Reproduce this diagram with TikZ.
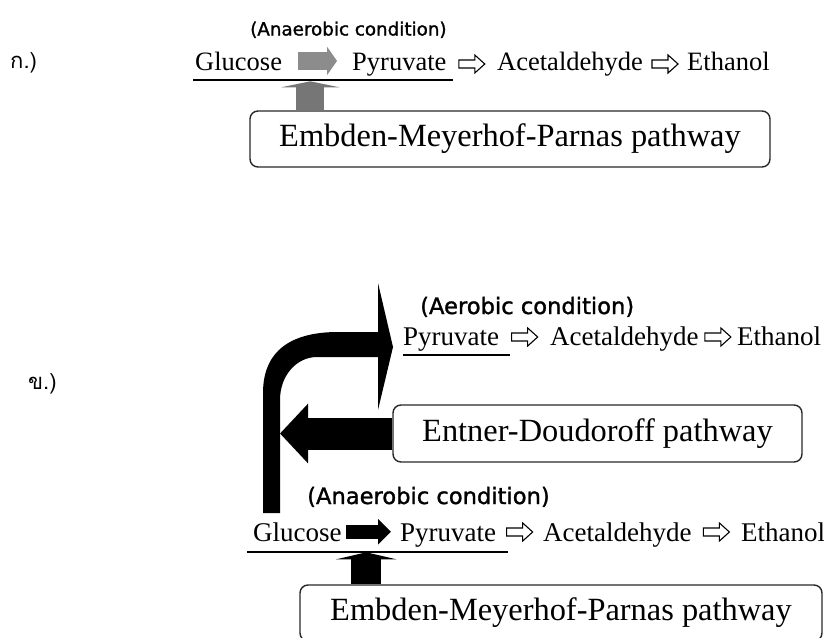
\documentclass[tikz,border=0pt]{standalone}
\usepackage{fontspec}
\setmainfont{Liberation Serif}
\newfontfamily\condfont[FakeBold=1.3]{DejaVu Sans}
\newfontfamily\thaifont[Script=Thai]{Loma}
\usetikzlibrary{arrows.meta,calc}
\definecolor{greyA}{RGB}{140,140,140}
\definecolor{greyB}{RGB}{118,118,118}
\definecolor{boxline}{RGB}{40,40,40}
\tikzset{
  word/.style={inner sep=0pt, anchor=base west, font=\fontsize{26.5}{30}\selectfont},
  wordb/.style={inner sep=0pt, anchor=base west, font=\fontsize{27}{30}\selectfont},
  condsmall/.style={inner sep=0pt, anchor=base west, font=\condfont\fontsize{18.3}{20}\selectfont},
  condbig/.style={inner sep=0pt, anchor=base west, font=\condfont\fontsize{22.6}{24}\selectfont},
  thailabel/.style={inner sep=0pt, anchor=base west, font=\thaifont\fontsize{22}{24}\selectfont},
  pathbox/.style={draw=boxline, line width=1.4pt, rounded corners=8pt, fill=white, inner sep=0pt, font=\fontsize{32.4}{36}\selectfont},
  uline/.style={line width=2.4pt},
  hollowarr/.pic={\draw[line width=1.1pt, fill=white, line join=miter]
     (-13,-4) -- (3,-4) -- (3,-9) -- (13,0) -- (3,9) -- (3,4) -- (-13,4) -- cycle;}
}
\begin{document}
\begin{tikzpicture}[x=1pt,y=-1pt]
\clip (0,0) rectangle (824,637);
\fill[white] (0,0) rectangle (824,637);

% ---------- part a ----------
\node[thailabel] (lka) at (10,68) {ก.)};
\node[condsmall] (an1) at (250,35.5) {(Anaerobic condition)};
\node[word] (glu1) at (195,70) {Glucose};
\node[word] (pyr1) at (352,70) {Pyruvate};
\node[word] (ace1) at (497,70) {Acetaldehyde};
\node[word] (eth1) at (687,70) {Ethanol};
\coordinate (u1a) at (193,80);
\coordinate (u1b) at (453,80);
\draw[uline] (u1a) -- (u1b);
\path ($(pyr1.base east)!.5!(ace1.base west)+(0,-6)$) pic {hollowarr};
\path ($(ace1.base east)!.5!(eth1.base west)+(0,-6)$) pic {hollowarr};
\draw[greyA, line width=18pt, -{Triangle[length=10pt,width=28pt]}]
  ([xshift=16pt]glu1.east) -- ([xshift=-15pt]glu1.east -| pyr1.west);
\node[pathbox, minimum width=520pt, minimum height=56pt] (emp1) at (510,139) {Embden-Meyerhof-Parnas pathway};
\draw[greyB, line width=28pt, -{Triangle[length=6pt,width=58pt]}]
  ($(emp1.north west)+(61,0)$) -- ($(emp1.north west)+(61,-29)$);

% ---------- part b ----------
\node[thailabel] (lkb) at (28,389) {ข.)};
\node[condbig] (aer) at (420,314) {(Aerobic condition)};
\node[wordb] (pyr2) at (403,345) {Pyruvate};
\node[wordb] (ace2) at (550,345) {Acetaldehyde};
\node[wordb] (eth2) at (737,345) {Ethanol};
\coordinate (u2a) at (403,355);
\coordinate (u2b) at (510,355);
\draw[uline] (u2a) -- (u2b);
\path ($(pyr2.base east)!.5!(ace2.base west)+(0,-8)$) pic {hollowarr};
\path ($(ace2.base east)!.5!(eth2.base west)+(0,-8)$) pic {hollowarr};

% big curved arrow (glucose -> aerobic pyruvate)
\fill[black] (263,513) -- (263,393) .. controls (263,350) and (292,332) .. (338,332)
  -- (378,332) -- (378,283) -- (393,347) -- (378,410) -- (378,357) -- (317,357)
  .. controls (297,357) and (280,375) .. (280,400) -- (280,513) -- cycle;

\node[pathbox, minimum width=409pt, minimum height=57pt] (ed) at (597.5,433.5) {Entner-Doudoroff pathway};
\coordinate (edtip) at (280,433.5);
\draw[black, line width=32pt, -{Triangle[length=28pt,width=58pt]}] (ed.west) -- (edtip);

\node[condbig] (an2) at (307,504) {(Anaerobic condition)};
\node[wordb] (glu3) at (253,541) {Glucose};
\node[wordb] (pyr3) at (400,541) {Pyruvate};
\node[wordb] (ace3) at (543,541) {Acetaldehyde};
\node[wordb] (eth3) at (741,541) {Ethanol};
\coordinate (u3a) at (247,552);
\coordinate (u3b) at (508,552);
\draw[uline] (u3a) -- (u3b);
\path ($(pyr3.base east)!.5!(ace3.base west)+(0,-9)$) pic {hollowarr};
\path ($(ace3.base east)!.5!(eth3.base west)+(0,-9)$) pic {hollowarr};
\draw[black, line width=14pt, -{Triangle[length=13pt,width=25pt]}]
  ([xshift=4.5pt]glu3.east) -- ([xshift=-9pt]glu3.east -| pyr3.west);
\node[pathbox, minimum width=522pt, minimum height=56pt] (emp2) at (561,613) {Embden-Meyerhof-Parnas pathway};
\draw[black, line width=30pt, -{Triangle[length=7pt,width=60pt]}]
  ($(emp2.north west)+(67,0)$) -- ($(emp2.north west)+(67,-32)$);
\end{tikzpicture}
\end{document}
